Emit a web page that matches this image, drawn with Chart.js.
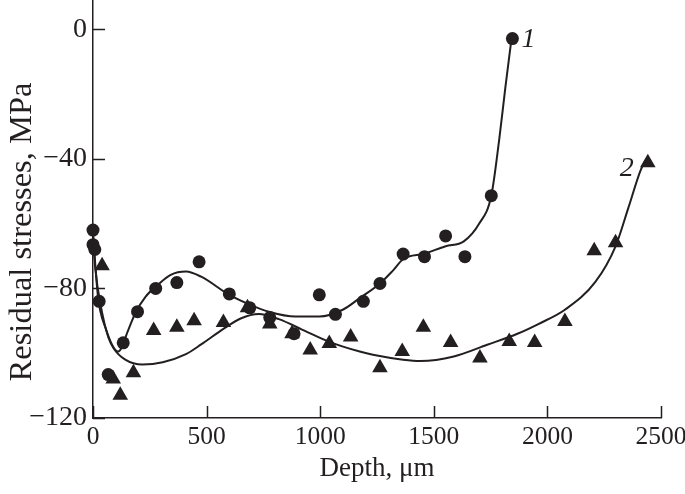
<!DOCTYPE html>
<html><head><meta charset="utf-8">
<script src="https://cdn.jsdelivr.net/npm/chart.js@4.4.1/dist/chart.umd.min.js"></script>
<style>html,body{margin:0;padding:0;background:#fff}</style>
</head><body>
<canvas id="c" width="685" height="494"></canvas>
<script>
// ---- data ----
const depth1  = [0, 0, 8, 27, 67, 133, 196, 276, 369, 467, 600, 690, 778, 885, 996, 1067, 1190, 1263, 1365, 1459, 1552, 1637, 1753, 1846];
const stress1 = [-62, -66.5, -68, -84, -106.6, -96.8, -87.2, -80, -78.2, -71.8, -81.7, -86, -89, -94, -82, -88, -84, -78.5, -69.4, -70.2, -63.8, -70.2, -51.4, -2.9];

const depth2  = [40, 89, 120, 178, 267, 369, 445, 574, 680, 778, 876, 956, 1040, 1134, 1263, 1361, 1454, 1574, 1703, 1832, 1944, 2077, 2206, 2300, 2442];
const stress2 = [-73, -108, -113, -106, -93, -92, -90, -90.5, -86, -91, -94, -99, -97, -95, -104.5, -99.5, -92, -96.7, -101.5, -96.4, -96.7, -90.2, -68.4, -65.9, -41.2];

const fit1Depth  = [0, 22, 53, 111, 156, 187, 231, 285, 342, 409, 476, 600, 690, 774, 890, 996, 1099, 1174, 1263, 1320, 1365, 1459, 1552, 1632, 1700, 1753, 1788, 1815, 1842];
const fit1Stress = [-63, -82.6, -91.8, -99.5, -92.7, -87.5, -82.6, -78.9, -75.8, -74.8, -76.4, -82, -85, -87.2, -88.7, -88.7, -86.6, -83, -78.5, -74.5, -71, -69.3, -67, -65.5, -60, -51.4, -34, -18, -3];

const fit2Depth  = [0, 9, 40, 67, 89, 142, 218, 307, 409, 476, 574, 650, 729, 818, 920, 1040, 1174, 1232, 1365, 1441, 1588, 1735, 1868, 1960, 2077, 2211, 2300, 2357, 2411, 2436];
const fit2Stress = [-63, -73, -87.5, -95, -98.3, -102, -103.5, -102.8, -100.3, -97.3, -92.5, -89.3, -87.9, -89.5, -92.7, -96.5, -99.5, -100.5, -102, -102.4, -101, -97.4, -94, -91, -86.6, -78, -67, -55, -43.4, -40];

const xTicks = [0, 500, 1000, 1500, 2000, 2500];
const yTicks = [-120, -80, -40, 0];
const seriesLabels = ['1', '2'];
const xTitle = 'Depth, \u03bcm';
const yTitle = 'Residual stresses, MPa';

const INK = '#231f20';
const FONT = '"Liberation Serif", "DejaVu Serif", serif';

const pts = (xs, ys) => xs.map((x, i) => ({x, y: ys[i]}));

const decor = {
  id: 'decor',
  afterDraw(chart) {
    const ctx = chart.ctx, xs = chart.scales.x, ys = chart.scales.y, a = chart.chartArea;
    ctx.save();
    ctx.strokeStyle = INK; ctx.lineWidth = 1.5;
    ctx.beginPath();
    ys.ticks.forEach(t => { const p = Math.round(ys.getPixelForValue(t.value)) + 0.5; ctx.moveTo(a.left, p); ctx.lineTo(a.left + 12, p); });
    xs.ticks.forEach(t => { const p = Math.round(xs.getPixelForValue(t.value)) + 0.5; ctx.moveTo(p, a.bottom); ctx.lineTo(p, a.bottom - 12); });
    ctx.stroke();
    ctx.fillStyle = INK;
    ctx.font = '27px ' + FONT;
    ctx.textAlign = 'center'; ctx.textBaseline = 'middle';
    ctx.fillText(xTitle, (a.left + a.right) / 2, 469);
    ctx.save(); ctx.translate(22, 232); ctx.rotate(-Math.PI / 2); ctx.font = '32.5px ' + FONT; ctx.fillText(yTitle, 0, 0); ctx.restore();
    ctx.font = 'italic 28px ' + FONT;
    const n1 = depth1.length - 1, n2 = depth2.length - 1;
    ctx.textAlign = 'left';
    ctx.fillText(seriesLabels[0], xs.getPixelForValue(depth1[n1]) + 9, ys.getPixelForValue(stress1[n1]) + 1);
    ctx.textAlign = 'right';
    ctx.fillText(seriesLabels[1], xs.getPixelForValue(depth2[n2]) - 14, ys.getPixelForValue(stress2[n2]) + 6);
    ctx.restore();
  }
};

new Chart(document.getElementById('c'), {
  type: 'scatter',
  data: {
    datasets: [
      {data: pts(fit1Depth, fit1Stress), showLine: true, borderColor: INK, borderWidth: 2, pointRadius: 0, cubicInterpolationMode: 'monotone', fill: false, clip: false},
      {data: pts(fit2Depth, fit2Stress), showLine: true, borderColor: INK, borderWidth: 2, pointRadius: 0, cubicInterpolationMode: 'monotone', fill: false, clip: false},
      {data: pts(depth1, stress1), pointStyle: 'circle', pointRadius: 6.5, backgroundColor: INK, borderColor: INK, borderWidth: 0, clip: false},
      {data: pts(depth2, stress2), pointStyle: 'triangle', pointRadius: 9, backgroundColor: INK, borderColor: INK, borderWidth: 0, clip: false}
    ]
  },
  options: {
    responsive: false, animation: false, events: [],
    layout: {autoPadding: false, padding: {top: 0, right: 24, left: 0, bottom: 0}},
    plugins: {legend: {display: false}, tooltip: {enabled: false}},
    scales: {
      x: {
        type: 'linear', min: 0, max: 2500,
        afterBuildTicks: s => { s.ticks = xTicks.map(v => ({value: v})); },
        afterFit: s => { s.height = 76; s.paddingLeft = 0; s.paddingRight = 0; },
        grid: {display: false, drawTicks: false},
        border: {display: true, color: INK, width: 1.5},
        ticks: {color: INK, font: {family: FONT, size: 25.5}, padding: 4, maxRotation: 0, autoSkip: false,
          callback: v => String(v)}
      },
      y: {
        type: 'linear', min: -120, max: 9,
        afterBuildTicks: s => { s.ticks = yTicks.map(v => ({value: v})); },
        afterFit: s => { s.width = 93; s.paddingTop = 0; s.paddingBottom = 0; },
        grid: {display: false, drawTicks: false},
        border: {display: true, color: INK, width: 1.5},
        ticks: {color: INK, font: {family: FONT, size: 28}, padding: 6, autoSkip: false,
          callback: v => String(v).replace('-', '\u2212')}
      }
    }
  },
  plugins: [decor]
});
</script>
</body></html>
